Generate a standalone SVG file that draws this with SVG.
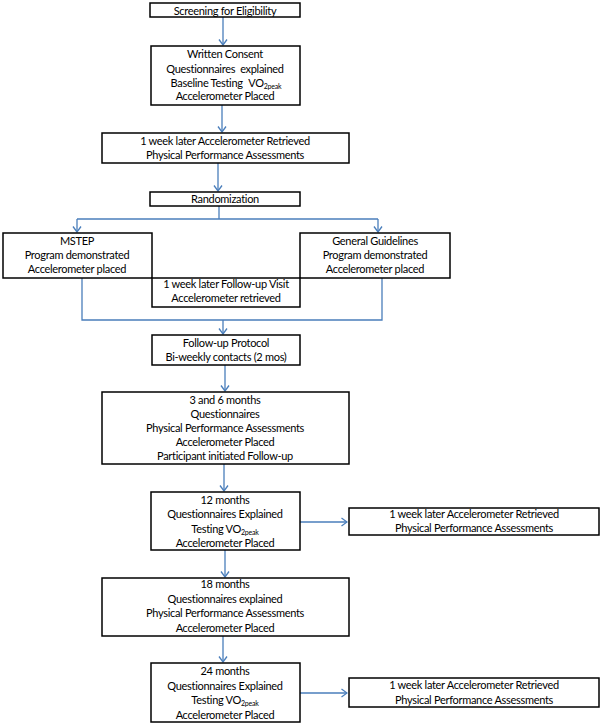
<svg xmlns="http://www.w3.org/2000/svg" width="600" height="725" viewBox="0 0 600 725">
<style>
rect{fill:#fff;stroke:#000;stroke-width:1.5}
text{font-family:Lato,"Liberation Sans",sans-serif;font-size:11px;letter-spacing:-0.3px;fill:#000;text-anchor:middle}
.sub{font-size:7px;letter-spacing:-0.2px}
#connectors path{fill:none;stroke:#4a7ebb;stroke-width:1.3}
</style>
<defs>
<marker id="ah" viewBox="-7 -5 8 10" refX="0" refY="0" markerWidth="8" markerHeight="10" markerUnits="userSpaceOnUse" orient="auto">
<path d="M-5.5,-4 L0,0 L-5.5,4" fill="none" stroke="#4a7ebb" stroke-width="1.3"/>
</marker>
</defs>
<g id="connectors">
<path d="M223,17 V45" marker-end="url(#ah)"/>
<path d="M222,105 V132" marker-end="url(#ah)"/>
<path d="M218,163 V191" marker-end="url(#ah)"/>
<path d="M219,206 V219"/>
<path d="M77,219 H378"/>
<path d="M77,219 V232" marker-end="url(#ah)"/>
<path d="M378,219 V232" marker-end="url(#ah)"/>
<path d="M82,278 V320 H382 V278"/>
<path d="M223,320 V334" marker-end="url(#ah)"/>
<path d="M225,365 V391" marker-end="url(#ah)"/>
<path d="M224,464 V491" marker-end="url(#ah)"/>
<path d="M300,522 H347" marker-end="url(#ah)"/>
<path d="M225,550 V577" marker-end="url(#ah)"/>
<path d="M223,636 V662" marker-end="url(#ah)"/>
<path d="M300,693 H347" marker-end="url(#ah)"/>
</g>
<g id="screening"><rect x="150" y="3" width="150" height="14"/><text x="225" y="14.5">Screening for Eligibility</text></g>
<g id="consent"><rect x="151" y="46" width="149" height="59"/>
<text x="225" y="58">Written Consent</text>
<text x="225" y="72.5">Questionnaires<tspan dx="5">explained</tspan></text>
<text x="226" y="86.5">Baseline Testing<tspan dx="6">VO</tspan><tspan class="sub" dy="2">2peak</tspan></text>
<text x="225" y="100">Accelerometer Placed</text></g>
<g id="week1"><rect x="102" y="133" width="247" height="30"/>
<text x="225" y="144.5">1 week later Accelerometer Retrieved</text>
<text x="225" y="158.5">Physical Performance Assessments</text></g>
<g id="randomization"><rect x="150" y="192" width="150" height="14"/><text x="225" y="203">Randomization</text></g>
<g id="mstep"><rect x="3" y="233" width="149" height="45"/>
<text x="77" y="245">MSTEP</text>
<text x="77" y="259">Program demonstrated</text>
<text x="77" y="273">Accelerometer placed</text></g>
<g id="guidelines"><rect x="300" y="233" width="150" height="45"/>
<text x="375" y="245">General Guidelines</text>
<text x="375" y="259">Program demonstrated</text>
<text x="375" y="273">Accelerometer placed</text></g>
<g id="followupvisit"><rect x="152" y="278" width="148" height="29"/>
<text x="226" y="288">1 week later Follow-up Visit</text>
<text x="226" y="302">Accelerometer retrieved</text></g>
<g id="protocol"><rect x="152" y="335" width="148" height="30"/>
<text x="226" y="347">Follow-up Protocol</text>
<text x="226" y="361">Bi-weekly contacts (2 mos)</text></g>
<g id="m3_6"><rect x="102" y="392" width="247" height="72"/>
<text x="225" y="403.5">3 and 6 months</text>
<text x="225" y="417.5">Questionnaires</text>
<text x="225" y="431.5">Physical Performance Assessments</text>
<text x="225" y="445.5">Accelerometer Placed</text>
<text x="225" y="459.5">Participant initiated Follow-up</text></g>
<g id="m12"><rect x="151" y="492" width="149" height="58"/>
<text x="225" y="503.5">12 months</text>
<text x="225" y="518">Questionnaires Explained</text>
<text x="225" y="532.5">Testing VO<tspan class="sub" dy="2">2peak</tspan></text>
<text x="225" y="547">Accelerometer Placed</text></g>
<g id="m12week"><rect x="349" y="508" width="250" height="27"/>
<text x="474" y="518">1 week later Accelerometer Retrieved</text>
<text x="474" y="532">Physical Performance Assessments</text></g>
<g id="m18"><rect x="102" y="578" width="247" height="58"/>
<text x="225" y="588">18 months</text>
<text x="225" y="602.5">Questionnaires explained</text>
<text x="225" y="617">Physical Performance Assessments</text>
<text x="225" y="631.5">Accelerometer Placed</text></g>
<g id="m24"><rect x="151" y="663" width="149" height="59"/>
<text x="225" y="675">24 months</text>
<text x="225" y="689.5">Questionnaires Explained</text>
<text x="225" y="704">Testing VO<tspan class="sub" dy="2">2peak</tspan></text>
<text x="225" y="718.5">Accelerometer Placed</text></g>
<g id="m24week"><rect x="349" y="678" width="250" height="29"/>
<text x="474" y="689">1 week later Accelerometer Retrieved</text>
<text x="474" y="703.5">Physical Performance Assessments</text></g>
</svg>
